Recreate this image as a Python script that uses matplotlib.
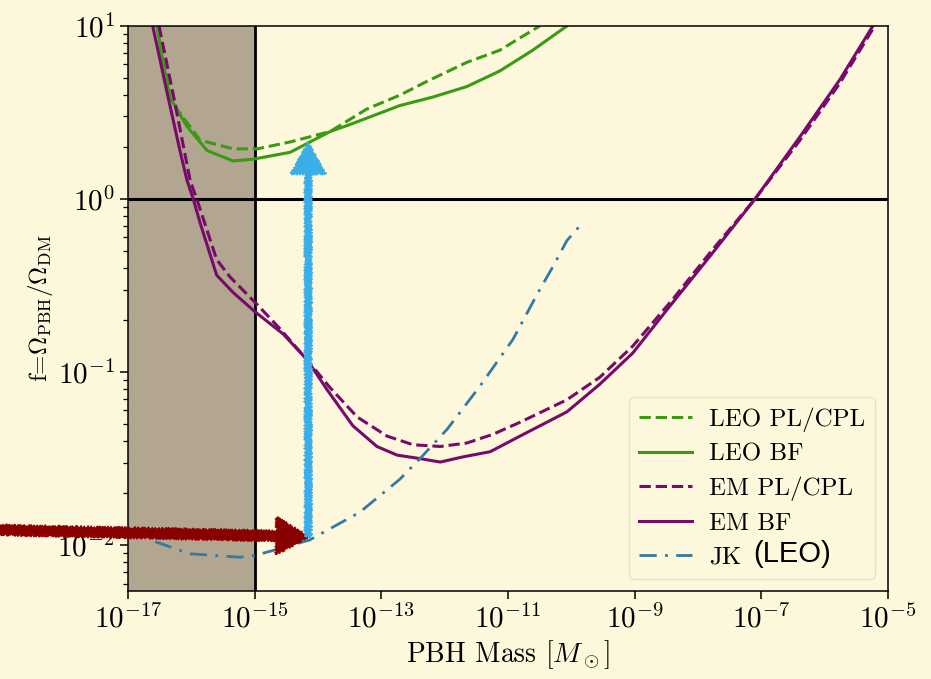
import numpy as np
import matplotlib
matplotlib.use("Agg")
import matplotlib.pyplot as plt

plt.rcParams['font.family'] = 'serif'
plt.rcParams['font.serif'] = ['cmr10']
plt.rcParams['mathtext.fontset'] = 'cm'
plt.rcParams['axes.formatter.use_mathtext'] = True

# curves, stored as log10(mass / Msun), log10(f)
leo_pl_logm = [-16.54, -16.45, -16.23, -15.86, -15.34, -14.96, -14.44, -13.81,
               -13.23, -12.71, -12.28, -11.65, -11.13, -10.50]
leo_pl_logf = [1.00, 0.80, 0.52, 0.34, 0.29, 0.29, 0.33, 0.39,
               0.52, 0.60, 0.68, 0.79, 0.86, 1.00]

leo_bf_logm = [-16.54, -16.45, -16.34, -16.07, -15.75, -15.34, -15.03, -14.44,
               -13.81, -13.50, -12.71, -12.18, -11.65, -11.13, -10.61, -10.07]
leo_bf_logf = [1.00, 0.80, 0.59, 0.42, 0.28, 0.22, 0.23, 0.27,
               0.39, 0.43, 0.54, 0.59, 0.65, 0.74, 0.86, 1.00]

em_pl_logm = [-16.51, -16.29, -16.02, -15.86, -15.60, -15.39, -14.96, -14.60,
              -14.17, -13.81, -13.38, -12.91, -12.50, -12.07, -11.65, -11.24,
              -10.81, -10.07, -9.55, -9.03, -8.40, -7.81, -7.10, -6.39, -5.76, -5.21]
em_pl_logf = [1.00, 0.61, 0.11, -0.06, -0.35, -0.45, -0.61, -0.75,
              -0.93, -1.09, -1.26, -1.37, -1.42, -1.43, -1.41, -1.36,
              -1.29, -1.16, -1.03, -0.85, -0.58, -0.31, 0.00, 0.34, 0.67, 1.00]

em_bf_logm = [-16.61, -16.38, -16.18, -16.07, -15.97, -15.86, -15.60, -15.34,
              -15.00, -14.55, -14.17, -13.86, -13.45, -13.07, -12.75, -12.39,
              -12.07, -11.71, -11.28, -10.81, -10.07, -9.55, -9.03, -8.49,
              -7.81, -7.10, -6.39, -5.76, -5.24]
em_bf_logf = [1.00, 0.61, 0.28, 0.11, 0.00, -0.14, -0.44, -0.54,
              -0.65, -0.78, -0.93, -1.10, -1.31, -1.43, -1.48, -1.50,
              -1.52, -1.49, -1.46, -1.37, -1.23, -1.07, -0.89, -0.64,
              -0.33, 0.00, 0.36, 0.69, 1.00]

jk_logm = [-16.57, -16.26, -16.02, -15.63, -15.23, -15.00, -14.60, -14.13,
           -13.34, -12.71, -12.39, -11.96, -11.44, -10.92, -10.54, -10.29,
           -10.07, -9.83]
jk_logf = [-1.98, -2.02, -2.05, -2.06, -2.07, -2.06, -2.02, -1.97,
           -1.81, -1.62, -1.50, -1.33, -1.08, -0.81, -0.55, -0.39,
           -0.24, -0.14]

excluded_mass = (1e-17, 1e-15)

bg = '#fdf8dc'
fig = plt.figure(figsize=(9.31, 6.79), dpi=100, facecolor=bg)
ax = fig.add_axes([0.1375, 0.1296, 0.8163, 0.8321], facecolor=bg)

ax.axvspan(*excluded_mass, color='#b2a690', zorder=0)
ax.axvline(1e-15, color='k', lw=2)
ax.axhline(1.0, color='k', lw=2.2)

green = '#3a9a12'
purple = '#780a6c'
ax.plot(10**np.array(leo_pl_logm), 10**np.array(leo_pl_logf), '--', color=green, lw=2.2, label='LEO PL/CPL')
ax.plot(10**np.array(leo_bf_logm), 10**np.array(leo_bf_logf), '-', color=green, lw=2.2, label='LEO BF')
ax.plot(10**np.array(em_pl_logm), 10**np.array(em_pl_logf), '--', color=purple, lw=2.2, label='EM PL/CPL')
ax.plot(10**np.array(em_bf_logm), 10**np.array(em_bf_logf), '-', color=purple, lw=2.2, label='EM BF')
ax.plot(10**np.array(jk_logm), 10**np.array(jk_logf), '-.', color='#347aa3', lw=2,
        dashes=[6.2, 3, 1, 3], label='JK')

ax.set_xscale('log')
ax.set_yscale('log')
ax.set_xlim(1e-17, 1e-5)
ax.set_ylim(5.43e-3, 10)
ax.set_xticks([10.0**k for k in range(-17, -4, 2)])
ax.xaxis.set_minor_locator(matplotlib.ticker.NullLocator())
ax.tick_params(which='major', direction='out', length=6, width=1.1, labelsize=21)
ax.tick_params(which='minor', direction='out', length=3.5, width=0.9)
for s in ax.spines.values():
    s.set_linewidth(1.1)

ax.set_xlabel(r'PBH Mass [$M_\odot$]', fontsize=20, labelpad=3)
ax.set_ylabel(r'f=$\Omega_{\rm PBH}/\Omega_{\rm DM}$', fontsize=18, labelpad=2)

# hand-drawn style arrows
red_tail = (0.0, 1 - 530 / 679)
arrow_tip = (7e-15, 0.0112)
blue_tip = (7e-15, 2.1)
a1 = ax.annotate('', xy=arrow_tip, xytext=red_tail, textcoords='figure fraction',
                 annotation_clip=False,
                 arrowprops=dict(facecolor='#8a0000', edgecolor='#8a0000', width=7,
                                 headwidth=27, headlength=23))
a2 = ax.annotate('', xy=blue_tip, xytext=arrow_tip,
                 arrowprops=dict(facecolor='#3aaee9', edgecolor='#3aaee9', width=4.5,
                                 headwidth=25, headlength=22))
a1.arrow_patch.set_sketch_params(1.2, 3, 2)
a2.arrow_patch.set_sketch_params(1.2, 3, 2)

leg = ax.legend(loc='lower right', fontsize=18, handlelength=2.1, handletextpad=0.7,
                labelspacing=0.45, borderpad=0.4, facecolor=bg, edgecolor='#f0d8c0',
                framealpha=0.8)

fig.canvas.draw()
bb = leg.get_texts()[4].get_window_extent()
fig.text((bb.x1 + 12) / fig.bbox.width, (bb.y0 + 1) / fig.bbox.height, '(LEO)',
         family='Liberation Sans', fontsize=21, va='bottom', ha='left', zorder=10)

fig.savefig('out.png', dpi=100, facecolor=bg)
